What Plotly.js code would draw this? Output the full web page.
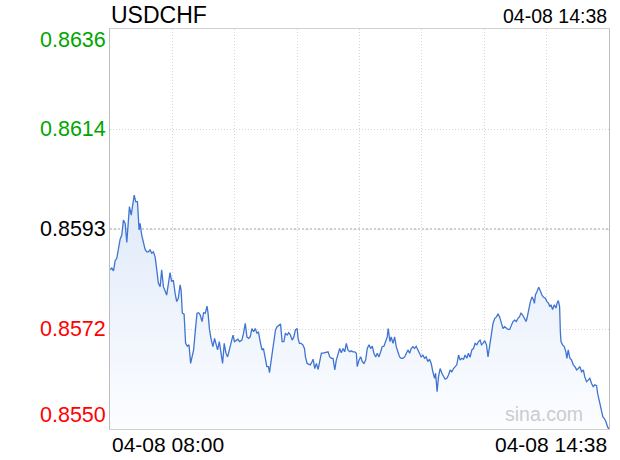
<!DOCTYPE html>
<html>
<head>
<meta charset="utf-8">
<script src="https://cdn.plot.ly/plotly-3.0.1.min.js"></script>
<style>html,body{margin:0;padding:0;background:#fff}#chart{width:620px;height:460px}</style>
</head>
<body>
<div id="chart"></div>
<script>
// minutes after 04-08 08:00
const minutes = [0,1.4,2.8,4.1,5.4,6.8,8.1,9.4,10.7,12.1,13.4,14.7,15.5,16.9,17.9,19.3,20.5,21.9,23.2,24.0,
25.3,26.7,28.0,29.3,30.6,32.0,33.3,34.6,36.0,37.3,38.6,40.0,41.2,42.6,43.9,45.2,46.6,47.9,49.2,50.5,
51.9,53.2,54.5,55.9,56.7,57.7,59.1,60.3,61.7,63.0,64.3,65.7,66.7,68.1,69.4,70.7,72.0,73.4,74.7,76.0,
77.4,78.2,79.4,80.8,82.1,83.4,84.8,85.8,87.2,88.5,89.8,91.1,92.5,93.8,95.1,96.5,98.1,99.3,100.7,102.0,
103.3,105.2,106.5,107.9,109.2,110.5,111.8,113.2,114.5,115.8,117.2,118.4,119.8,121.2,122.4,123.8,125.1,126.4,127.2,128.6,
129.9,130.7,132.0,133.3,134.7,136.0,137.3,138.7,139.9,141.3,142.6,143.9,145.3,146.6,147.9,149.3,150.0,151.1,152.4,153.8,
155.1,155.9,157.2,158.6,159.8,161.2,162.0,163.3,164.6,166.0,167.3,168.6,169.9,171.3,172.6,173.9,175.3,176.6,177.9,179.3,
180.5,181.9,183.2,184.5,185.9,187.2,188.5,189.8,191.2,192.5,193.8,195.2,196.5,197.2,198.6,200.0,201.2,202.6,203.9,205.2,
206.6,207.9,209.2,210.5,211.9,213.2,214.5,215.9,217.1,218.5,219.9,221.1,221.9,223.3,224.3,225.7,227.0,228.3,229.6,231.0,
232.3,233.6,235.0,236.3,237.6,239.0,240.2,241.6,242.9,244.2,245.6,246.9,248.2,249.5,250.9,252.2,253.5,254.9,256.2,257.5,
258.9,259.7,260.9,262.0,263.3,264.7,266.0,267.3,268.7,270.0,271.3,272.6,274.0,275.3,276.6,278.0,279.3,280.6,282.0,283.2,
284.6,285.9,287.2,288.6,289.9,291.2,292.6,293.9,295.2,296.3,297.5,298.9,300.3,301.5,302.9,304.2,305.5,306.9,308.2,309.5,
310.8,312.2,313.5,314.8,316.2,317.4,318.8,320.2,321.4,322.8,324.1,325.4,326.5,327.8,329.1,330.5,331.8,332.6,333.9,335.3,
336.6,337.9,338.5,339.3,340.5,341.9,343.2,344.5,345.9,347.2,348.5,349.8,350.9,351.7,353.0,354.4,355.7,356.5,357.6,358.6,
359.2,359.7,361.0,362.3,363.6,364.4,365.5,366.8,368.2,369.5,370.8,372.2,373.5,374.8,376.1,377.5,378.7,380.1,381.4,382.7,
384.1,385.4,386.7,388.1,388.9,389.9,391.0,392.0,393.1,394.2,395.5,396.8,398];

const prices = [0.85843,0.85846,0.85840,0.85862,0.85867,0.85892,0.85908,0.85917,0.85949,0.85942,0.85901,0.85949,0.85978,0.85960,0.85975,0.86003,0.85989,0.85989,0.85928,0.85942,
0.85917,0.85899,0.85886,0.85881,0.85881,0.85885,0.85878,0.85881,0.85870,0.85842,0.85813,0.85806,0.85842,0.85806,0.85795,0.85788,0.85813,0.85836,0.85817,0.85820,
0.85792,0.85774,0.85781,0.85810,0.85799,0.85749,0.85747,0.85684,0.85678,0.85681,0.85641,0.85663,0.85670,0.85713,0.85749,0.85750,0.85745,0.85731,0.85750,0.85749,
0.85764,0.85749,0.85713,0.85691,0.85677,0.85695,0.85681,0.85670,0.85688,0.85666,0.85641,0.85684,0.85663,0.85655,0.85670,0.85684,0.85702,0.85688,0.85691,0.85693,
0.85688,0.85691,0.85706,0.85727,0.85698,0.85695,0.85698,0.85716,0.85709,0.85716,0.85706,0.85709,0.85688,0.85670,0.85673,0.85655,0.85634,0.85634,0.85621,0.85648,
0.85673,0.85698,0.85713,0.85720,0.85724,0.85726,0.85688,0.85688,0.85706,0.85702,0.85707,0.85702,0.85691,0.85698,0.85713,0.85716,0.85695,0.85684,0.85684,0.85681,
0.85673,0.85655,0.85641,0.85639,0.85638,0.85645,0.85650,0.85630,0.85641,0.85628,0.85648,0.85663,0.85663,0.85664,0.85666,0.85666,0.85655,0.85652,0.85652,0.85627,
0.85648,0.85663,0.85673,0.85664,0.85673,0.85666,0.85684,0.85670,0.85666,0.85668,0.85666,0.85666,0.85663,0.85634,0.85648,0.85655,0.85645,0.85641,0.85648,0.85673,
0.85681,0.85673,0.85678,0.85663,0.85655,0.85663,0.85655,0.85666,0.85677,0.85678,0.85688,0.85698,0.85716,0.85688,0.85698,0.85684,0.85698,0.85677,0.85666,0.85655,
0.85652,0.85652,0.85655,0.85664,0.85670,0.85663,0.85673,0.85677,0.85673,0.85678,0.85670,0.85659,0.85655,0.85659,0.85652,0.85655,0.85645,0.85650,0.85641,0.85623,
0.85609,0.85620,0.85580,0.85612,0.85630,0.85620,0.85612,0.85607,0.85609,0.85616,0.85627,0.85623,0.85630,0.85634,0.85638,0.85659,0.85648,0.85652,0.85650,0.85659,
0.85652,0.85663,0.85654,0.85670,0.85673,0.85684,0.85681,0.85688,0.85691,0.85681,0.85684,0.85690,0.85681,0.85655,0.85677,0.85698,0.85727,0.85738,0.85741,0.85747,
0.85741,0.85727,0.85716,0.85720,0.85716,0.85714,0.85714,0.85724,0.85731,0.85734,0.85731,0.85738,0.85741,0.85749,0.85745,0.85738,0.85731,0.85738,0.85756,0.85774,
0.85784,0.85777,0.85770,0.85788,0.85795,0.85805,0.85797,0.85788,0.85783,0.85781,0.85774,0.85770,0.85763,0.85767,0.85757,0.85767,0.85760,0.85770,0.85776,0.85763,
0.85709,0.85688,0.85681,0.85677,0.85666,0.85652,0.85670,0.85652,0.85648,0.85638,0.85634,0.85627,0.85630,0.85634,0.85623,0.85627,0.85612,0.85602,0.85605,0.85609,
0.85598,0.85591,0.85595,0.85593,0.85577,0.85566,0.85555,0.85541,0.85526,0.85523,0.85516,0.85505,0.85499];

const symbol = 'USDCHF';
const stamp = '04-08 14:38';
const xLabels = ['04-08 08:00', '04-08 14:38'];
const xLabelPos = [0, 398];
const yTickVals = [0.8636, 0.86145, 0.8593, 0.85715, 0.8550];
const yTickText = ['0.8636', '0.8614', '0.8593', '0.8572', '0.8550'];
const yTickColors = ['#00a600', '#00a600', '#000000', '#ff0000', '#ff0000'];
const prevClose = 0.8593;

const FONT = '"Liberation Sans", Arial, Helvetica, sans-serif';

const annotations = [];
yTickVals.forEach((v, i) => {
  let shift = 0;
  if (i === 0) shift = -11;
  if (i === yTickVals.length - 1) shift = 14;
  annotations.push({
    xref: 'paper', yref: 'y', x: 0, y: v, xanchor: 'right', yanchor: 'middle',
    xshift: -2, yshift: shift, showarrow: false, text: yTickText[i],
    font: {family: FONT, size: 21.5, color: yTickColors[i]}
  });
});
xLabels.forEach((t, i) => {
  annotations.push({
    xref: 'x', yref: 'paper', x: xLabelPos[i], y: 0, xanchor: i === 0 ? 'left' : 'right',
    yanchor: 'top', yshift: -2, showarrow: false, text: t,
    font: {family: FONT, size: 21, color: '#000'}
  });
});
annotations.push({
  xref: 'paper', yref: 'paper', x: 1, y: 1, xanchor: 'right', yanchor: 'bottom', yshift: 0,
  showarrow: false, text: stamp, font: {family: FONT, size: 19.5, color: '#000'}
});
annotations.push({
  xref: 'paper', yref: 'paper', x: 0.952, y: 0, xanchor: 'right', yanchor: 'bottom', yshift: 2,
  showarrow: false, text: 'sina.com', font: {family: FONT, size: 19.5, color: '#cccccc'}
});

const trace = {
  x: minutes, y: prices, type: 'scatter', mode: 'lines',
  line: {color: '#3f74d0', width: 1.3},
  fill: 'tozeroy',
  fillgradient: {
    type: 'vertical',
    start: 0.8550, stop: 0.8600,
    colorscale: [[0, 'rgba(252,253,255,1)'], [1, 'rgba(224,234,250,1)']]
  },
  hoverinfo: 'skip'
};

const layout = {
  width: 620, height: 460,
  margin: {l: 109.5, r: 10.5, t: 29, b: 31, pad: 0},
  paper_bgcolor: '#fff', plot_bgcolor: '#fff',
  showlegend: false,
  title: {text: symbol, x: 111/620, xanchor: 'left', xref: 'container', y: 1 - 15/460, yanchor: 'middle',
          font: {family: FONT, size: 23, color: '#000'}},
  xaxis: {
    range: [0, 398], showticklabels: false, ticks: '',
    tick0: 0, dtick: 398/8, showgrid: true, gridcolor: '#d6d6d6', griddash: '1px,2px', gridwidth: 1,
    showline: true, linecolor: '#cfcfcf', linewidth: 1, mirror: true, zeroline: false, fixedrange: true
  },
  yaxis: {
    range: [0.8550, 0.8636], tickvals: yTickVals, showticklabels: false, ticks: '',
    showgrid: true, gridcolor: '#d6d6d6', griddash: '1px,2px', gridwidth: 1,
    showline: true, linecolor: '#bdbdbd', linewidth: 1, mirror: true, zeroline: false, fixedrange: true
  },
  shapes: [{
    type: 'line', xref: 'paper', x0: 0, x1: 1, yref: 'y', y0: prevClose, y1: prevClose,
    line: {color: '#a0a0a0', width: 1, dash: '2px,2px'}, layer: 'below'
  }],
  annotations: annotations
};

Plotly.newPlot('chart', [trace], layout, {staticPlot: true, displayModeBar: false});
</script>
</body>
</html>
